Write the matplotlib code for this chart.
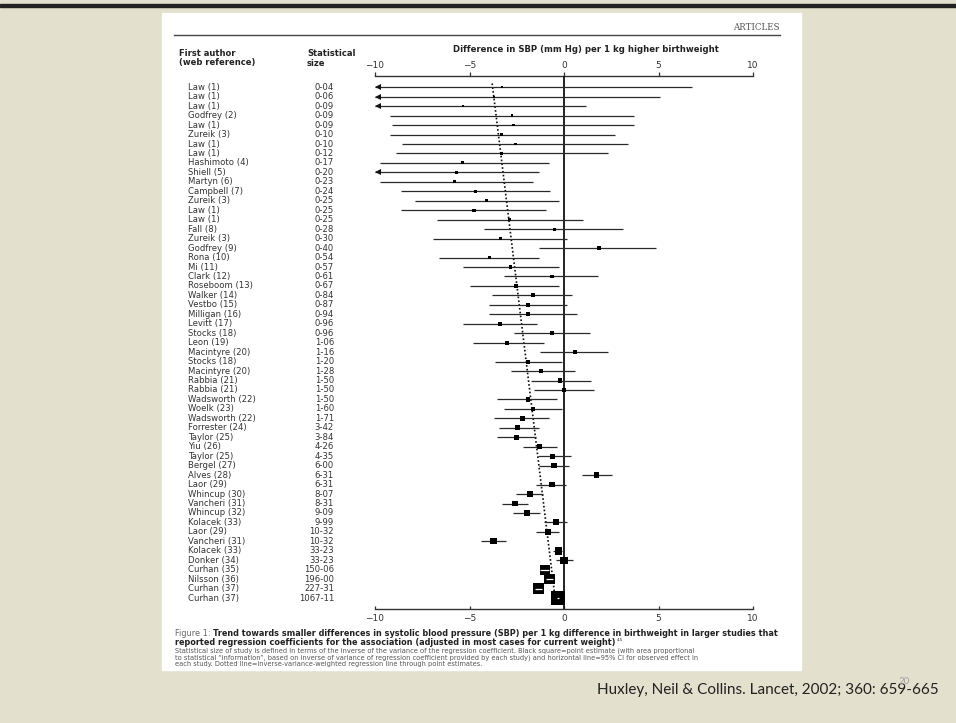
import numpy as np
import matplotlib
matplotlib.use("Agg")
import matplotlib.pyplot as plt
from matplotlib.patches import Rectangle
from matplotlib.transforms import blended_transform_factory

W, H, DPI = 956, 723, 100

# studies, top to bottom
authors = [
    "Law (1)", "Law (1)", "Law (1)", "Godfrey (2)", "Law (1)", "Zureik (3)", "Law (1)",
    "Law (1)", "Hashimoto (4)", "Shiell (5)", "Martyn (6)", "Campbell (7)", "Zureik (3)",
    "Law (1)", "Law (1)", "Fall (8)", "Zureik (3)", "Godfrey (9)", "Rona (10)", "Mi (11)",
    "Clark (12)", "Roseboom (13)", "Walker (14)", "Vestbo (15)", "Milligan (16)",
    "Levitt (17)", "Stocks (18)", "Leon (19)", "Macintyre (20)", "Stocks (18)",
    "Macintyre (20)", "Rabbia (21)", "Rabbia (21)", "Wadsworth (22)", "Woelk (23)",
    "Wadsworth (22)", "Forrester (24)", "Taylor (25)", "Yiu (26)", "Taylor (25)",
    "Bergel (27)", "Alves (28)", "Laor (29)", "Whincup (30)", "Vancheri (31)",
    "Whincup (32)", "Kolacek (33)", "Laor (29)", "Vancheri (31)", "Kolacek (33)",
    "Donker (34)", "Curhan (35)", "Nilsson (36)", "Curhan (37)", "Curhan (37)",
]
sizes = [
    "0-04", "0-06", "0-09", "0-09", "0-09", "0-10", "0-10", "0-12", "0-17", "0-20",
    "0-23", "0-24", "0-25", "0-25", "0-25", "0-28", "0-30", "0-40", "0-54", "0-57",
    "0-61", "0-67", "0-84", "0-87", "0-94", "0-96", "0-96", "1-06", "1-16", "1-20",
    "1-28", "1-50", "1-50", "1-50", "1-60", "1-71", "3-42", "3-84", "4-26", "4-35",
    "6-00", "6-31", "6-31", "8-07", "8-31", "9-09", "9-99", "10-32", "10-32", "33-23",
    "33-23", "150-06", "196-00", "227-31", "1067-11",
]
# difference in SBP (mm Hg) per kg: point estimate and 95% CI
est = [
    -3.3, -3.7, -5.34, -2.76, -2.68, -3.3, -2.55, -3.3, -5.39, -5.67,
    -5.77, -4.66, -4.1, -4.76, -2.88, -0.52, -3.37, 1.85, -3.95, -2.83,
    -0.62, -2.55, -1.63, -1.91, -1.91, -3.37, -0.62, -3.0, 0.56, -1.91,
    -1.22, -0.21, 0.0, -1.91, -1.63, -2.19, -2.47, -2.51, -1.29, -0.62,
    -0.54, 1.72, -0.64, -1.80, -2.58, -1.97, -0.43, -0.86, -3.73, -0.30,
    0.0, -1.0, -0.76, -1.35, -0.31,
]
lo = [
    -13.4, -12.5, -11.9, -9.23, -9.12, -9.23, -8.58, -8.9, -9.76, -10.2,
    -9.76, -8.63, -7.88, -8.63, -6.74, -4.23, -6.91, -1.33, -6.63, -5.34,
    -3.15, -4.98, -3.8, -3.95, -3.95, -5.34, -2.66, -4.81, -1.29, -3.63,
    -2.83, -1.72, -1.61, -3.52, -3.15, -3.73, -3.43, -3.52, -2.15, -1.39,
    -1.33, 0.97, -1.50, -2.55, -3.30, -2.68, -1.05, -1.48, -4.4, -0.58,
    -0.41, -1.25, -0.95, -1.55, -0.36,
]
hi = [
    6.76, 5.06, 1.18, 3.71, 3.71, 2.70, 3.39, 2.32, -0.79, -1.33,
    -1.65, -0.75, -0.26, -0.97, 0.99, 3.13, 0.17, 4.89, -1.33, -0.26,
    1.82, -0.26, 0.43, 0.17, 0.71, -1.44, 1.35, -1.07, 2.32, -0.11,
    0.56, 1.42, 1.61, -0.36, -0.09, -0.79, -1.33, -1.48, -0.36, 0.39,
    0.28, 2.53, 0.13, -1.12, -1.93, -1.29, 0.17, -0.26, -3.09, -0.09,
    0.45, -0.78, -0.6, -1.18, -0.27,
]
ticks = [-10, -5, 0, 5, 10]
trend_ends = [-3.8, -0.47]   # weighted regression line at first and last study

est, lo, hi = np.array(est), np.array(lo), np.array(hi)
weight = np.array([float(s.replace("-", ".")) for s in sizes])
rows = np.arange(1, len(authors) + 1)

fig = plt.figure(figsize=(W / DPI, H / DPI), dpi=DPI)

# slide background and the journal page
over = fig.add_axes([0, 0, 1, 1], zorder=0)
over.set_xlim(0, W)
over.set_ylim(H, 0)
over.axis("off")
over.add_patch(Rectangle((0, 0), W, H, color="#e3e0cd"))
over.add_patch(Rectangle((0, 3.5), W, 3, color="#222222"))
over.add_patch(Rectangle((162, 13), 639, 657, color="white"))
over.plot([174, 780], [34.5, 34.5], color="#444444", lw=1.0)

# forest plot
ax = fig.add_axes([375 / W, 1 - 609 / H, 378 / W, 533 / H], zorder=1)
ax.patch.set_visible(False)
ax.set_xlim(-10, 10)
ax.set_ylim(56.15, -0.19)
ax.set_yticks([])
for side in ("left", "right", "top"):
    ax.spines[side].set_visible(False)
ax.spines["bottom"].set_color("#333333")
ax.spines["bottom"].set_linewidth(1.0)
ax.set_xticks(ticks)
ax.tick_params(axis="x", direction="in", length=2.2, width=0.9, pad=3.5,
               labelsize=6.5, colors="#333333")

top = ax.secondary_xaxis("top")
top.set_xticks(ticks)
top.spines["top"].set_color("#333333")
top.spines["top"].set_linewidth(1.0)
top.tick_params(axis="x", direction="out", length=3, width=0.9, pad=1,
                labelsize=6.5, colors="#333333")

ax.axvline(0, color="#111111", lw=1.3, zorder=2)
ax.plot(trend_ends, [rows[0] - 0.4, rows[-1]], ls=(0, (1, 1.3)), color="#111111",
        lw=1.2, zorder=2)

ax.hlines(rows, np.maximum(lo, -10), hi, color="#2b2b2b", lw=0.9, zorder=2)
clipped = lo < -10
ax.plot(np.full(clipped.sum(), -9.85), rows[clipped], marker="<", ls="none",
        ms=4.5, mew=0, color="#111111", zorder=3)

side_px = 4.0 * weight ** 0.18
ax.scatter(est, rows, s=(side_px * 0.72) ** 2, marker="s", color="black",
           linewidths=0, zorder=3)
big = weight > 100
ax.hlines(rows[big], lo[big], hi[big], color="white", lw=0.9, zorder=4)

# study labels, positioned in page pixels across, data rows down
lab = blended_transform_factory(over.transData, ax.transData)
for r, a, s in zip(rows, authors, sizes):
    ax.text(188, r, a, transform=lab, ha="left", va="center", fontsize=6.1,
            color="#333333", clip_on=False)
    ax.text(334, r, s, transform=lab, ha="right", va="center", fontsize=6.1,
            color="#333333", clip_on=False)

fig.canvas.draw()
rend = fig.canvas.get_renderer()


def fit(x, y, s, width, **kw):
    t = over.text(x, y, s, fontsize=10, **kw)
    w = t.get_window_extent(renderer=rend).width
    t.set_fontsize(10 * width / w)
    return t


hdr = dict(fontsize=6, fontweight="bold", color="#222222", va="center")
over.text(179, 54, "First author", **hdr)
over.text(179, 63, "(web reference)", **hdr)
over.text(307, 54, "Statistical", **hdr)
over.text(307, 63, "size", **hdr)
fit(586, 50, "Difference in SBP (mm Hg) per 1 kg higher birthweight", 262,
    fontweight="bold", color="#222222", ha="center", va="center")
fit(780, 27.5, "ARTICLES", 46, family="DejaVu Serif", color="#555555",
    ha="right", va="center")

# figure caption
fig_lbl = "Figure 1: "
bold1 = ("Trend towards smaller differences in systolic blood pressure (SBP) per 1 kg "
         "difference in birthweight in larger studies that")
t1 = over.text(175, 634, fig_lbl, fontsize=10, color="#666666", va="center")
t2 = over.text(175, 634, bold1, fontsize=10, fontweight="bold", color="#222222",
               va="center")
w_all = (t1.get_window_extent(renderer=rend).width
         + t2.get_window_extent(renderer=rend).width)
cap_fs = 10 * 598 / w_all
t1.set_fontsize(cap_fs)
t2.set_fontsize(cap_fs)
t2.set_x(175 + t1.get_window_extent(renderer=rend).width)

t3 = over.text(175, 642.5, "reported regression coefficients for the association "
               "(adjusted in most cases for current weight)", fontsize=cap_fs,
               fontweight="bold", color="#222222", va="center")
sup_x = 175 + t3.get_window_extent(renderer=rend).width + 1
over.text(sup_x, 640, "4,5", fontsize=cap_fs * 0.5, color="#222222", va="center")

small = [
    "Statistical size of study is defined in terms of the inverse of the variance of the "
    "regression coefficient. Black square=point estimate (with area proportional",
    "to statistical \u201cinformation\u201d, based on inverse of variance of regression "
    "coefficient provided by each study) and horizontal line=95% CI for observed effect in",
    "each study. Dotted line=inverse-variance-weighted regression line through point "
    "estimates.",
]
for line, yy in zip(small, [650.6, 657.4, 664.2]):
    over.text(175, yy, line, fontsize=4.75, color="#555555", va="center")

# slide footer
fit(597, 690, "Huxley, Neil & Collins. Lancet, 2002; 360: 659-665", 341,
    family="Lato", color="#222222", va="center")
over.text(904, 681, "20", fontsize=7, family="Lato", color="#a0a0a0",
          ha="center", va="center")

fig.savefig("out.png", dpi=DPI)
